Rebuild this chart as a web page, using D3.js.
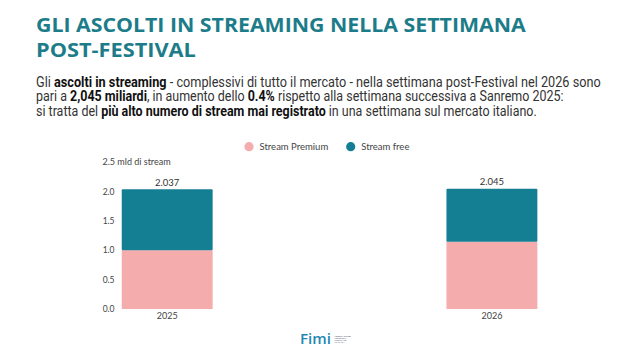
<!DOCTYPE html>
<html><head><meta charset="utf-8">
<script src="https://cdn.jsdelivr.net/npm/d3@7"></script>
<style>body{margin:0;background:#fff}svg{display:block}</style>
</head><body>
<script>
const years = ["2025", "2026"];
const premium = [1.0, 1.145];
const free = [1.037, 0.9];
const totalLabels = ["2.037", "2.045"];
const yTicks = [0, 0.5, 1.0, 1.5, 2.0];
const seriesNames = ["Stream Premium", "Stream free"];
const colors = ["#f4adac", "#147f93"];

const W = 638, H = 359;
const svg = d3.select("body").append("svg").attr("width", W).attr("height", H);

// fit a text horizontally to a target width by scaling its group
function fitLine(x0, y0, width, build) {
  const gg = svg.append("g");
  const t = gg.append("text").attr("x", 0).attr("y", 0);
  build(t);
  const natural = t.node().getComputedTextLength();
  gg.attr("transform", `translate(${x0},${y0}) scale(${width / natural},1)`);
}

// Title
const teal = "#1c7c89";
const titleLines = [
  {t: "GLI ASCOLTI IN STREAMING NELLA SETTIMANA", y: 32.3, w: 490},
  {t: "POST-FESTIVAL", y: 57.3, w: 160}
];
titleLines.forEach(l => fitLine(36, l.y, l.w, t =>
  t.attr("font-family", "'Open Sans', sans-serif").attr("font-weight", 700)
   .attr("font-size", 20).attr("fill", teal).text(l.t)));

// Body
const body = [
  {y: 86.7, w: 565, parts: [["Gli ", 0], ["ascolti in streaming", 1], [" - complessivi di tutto il mercato - nella settimana post-Festival nel 2026 sono", 0]]},
  {y: 101.3, w: 528, parts: [["pari a ", 0], ["2,045 miliardi", 1], [", in aumento dello ", 0], ["0.4%", 1], [" rispetto alla settimana successiva a Sanremo 2025:", 0]]},
  {y: 116, w: 501, parts: [["si tratta del ", 0], ["più alto numero di stream mai registrato", 1], [" in una settimana sul mercato italiano.", 0]]}
];
body.forEach(l => fitLine(36, l.y, l.w, t => {
  t.attr("font-family", "Roboto, sans-serif").attr("font-size", 14).attr("fill", "#333");
  l.parts.forEach(p => t.append("tspan").attr("font-weight", p[1] ? 700 : 400)
    .attr("fill", p[1] ? "#111" : "#333").text(p[0]));
}));

// Chart
const x = d3.scaleBand().domain(years).range([105.5, 553.6]).paddingInner(0.72).paddingOuter(0.05);
const y = d3.scaleLinear().domain([0, 2.5]).range([309, 162]);
const chartFont = "Lato, sans-serif";
const g = svg.append("g");

// y axis tick labels
const yAxis = d3.axisLeft(y).tickValues(yTicks).tickFormat(d3.format(".1f")).tickSize(0).tickPadding(0);
const ya = g.append("g").attr("transform", "translate(114.5,0)").call(yAxis);
ya.select(".domain").remove();
ya.selectAll("text").attr("font-family", chartFont).attr("font-size", 8.5).attr("fill", "#444");

g.append("text").attr("x", 102.5).attr("y", y(2.5) + 3.2)
  .attr("font-family", chartFont).attr("font-size", 9).attr("fill", "#444")
  .text("2.5 mld di stream");

// stacked bars
const data = years.map((yr, i) => ({year: yr, premium: premium[i], free: free[i]}));
const stack = d3.stack().keys(["premium", "free"])(data);
stack.forEach((s, si) => {
  g.append("g").attr("fill", colors[si]).selectAll("rect").data(s).join("rect")
    .attr("x", d => x(d.data.year)).attr("width", x.bandwidth())
    .attr("y", d => y(d[1])).attr("height", d => y(d[0]) - y(d[1]))
    .attr("rx", si === 1 ? 1 : 0);
});

// totals
g.selectAll("text.total").data(data).join("text").attr("class", "total")
  .attr("x", d => x(d.year) + x.bandwidth() / 2)
  .attr("y", d => y(d.premium + d.free) - 3.5)
  .attr("text-anchor", "middle").attr("font-family", chartFont).attr("font-size", 9.5).attr("fill", "#333")
  .text((d, i) => totalLabels[i]);

// x axis labels
const xAxis = d3.axisBottom(x).tickSize(0).tickPadding(0);
const xa = g.append("g").attr("transform", "translate(0,313)").call(xAxis);
xa.select(".domain").remove();
xa.selectAll("text").attr("font-family", chartFont).attr("font-size", 9).attr("fill", "#444");

// legend
const legX = [249, 350.7];
seriesNames.forEach((n, i) => {
  svg.append("circle").attr("cx", legX[i]).attr("cy", 146.7).attr("r", 4.6).attr("fill", colors[i]);
  svg.append("text").attr("x", legX[i] + 10.5).attr("y", 150)
    .attr("font-family", chartFont).attr("font-size", 9.5).attr("fill", "#444").text(n);
});

// logo
fitLine(300, 344, 31, t => t.attr("font-family", "'Open Sans', sans-serif")
  .attr("font-weight", 600).attr("font-size", 15).attr("fill", "#1e88b5").text("Fimi"));
["FEDERAZIONE", "INDUSTRIA", "MUSICALE", "ITALIANA"].forEach((t, i) => {
  svg.append("text").attr("x", 334.5).attr("y", 336.5 + i * 2.2).attr("font-family", "sans-serif")
    .attr("font-size", 2.3).attr("fill", "#557").text(t);
});
</script>
</body></html>
